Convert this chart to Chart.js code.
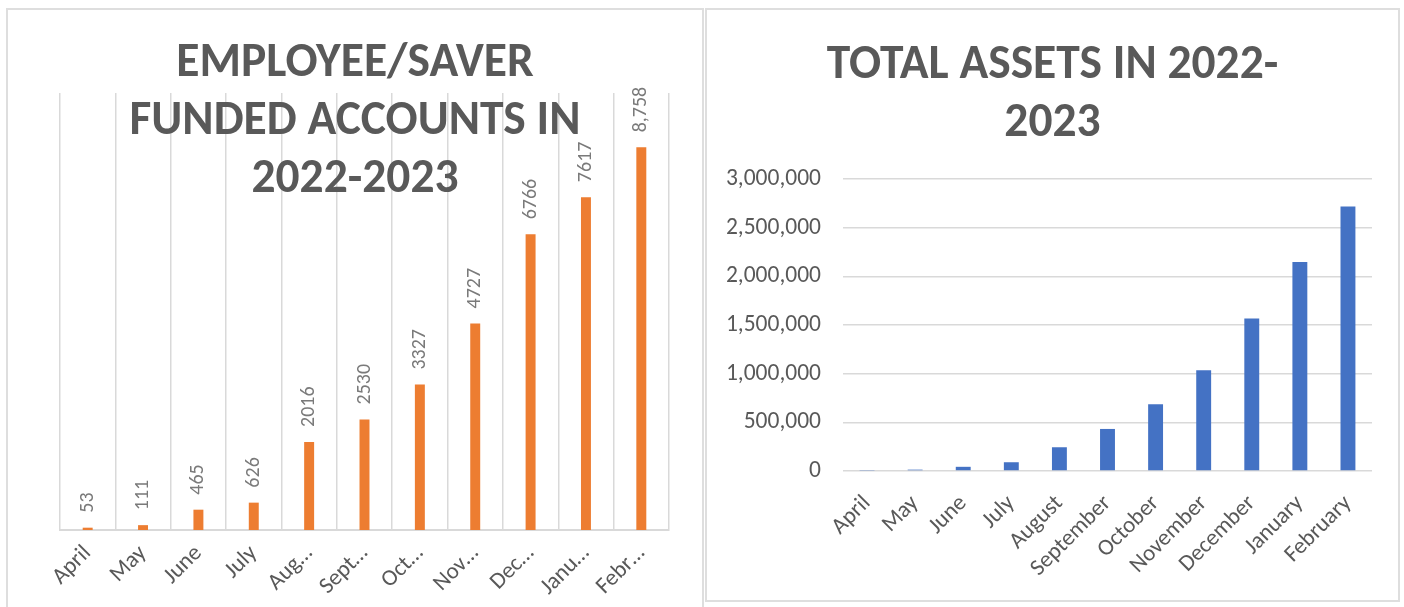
<!DOCTYPE html>
<html>
<head>
<meta charset="utf-8">
<script src="https://cdn.jsdelivr.net/npm/chart.js@4.4.1/dist/chart.umd.min.js"></script>
<style>
  body { margin:0; background:#fff; width:1404px; height:607px; overflow:hidden; position:relative; }
  .panel { position:absolute; border:2px solid #dedede; box-sizing:border-box; background:#fff; overflow:hidden; }
  #leftPanel { left:6px; top:8px; width:698px; height:610px; }
  #rightPanel { left:705px; top:8px; width:695px; height:594px; }
  canvas { position:absolute; left:0; top:0; }
</style>
</head>
<body>
<div class="panel" id="leftPanel"><canvas id="accountsChart" width="694" height="600"></canvas></div>
<div class="panel" id="rightPanel"><canvas id="assetsChart" width="691" height="590"></canvas></div>
<script>
// data
const accountMonths = ["April", "May", "June", "July", "Aug…", "Sept…", "Oct…", "Nov…", "Dec…", "Janu…", "Febr…"];
const fundedAccounts = [53, 111, 465, 626, 2016, 2530, 3327, 4727, 6766, 7617, 8758];
const accountLabels = ["53", "111", "465", "626", "2016", "2530", "3327", "4727", "6766", "7617", "8,758"];

const assetMonths = ["April", "May", "June", "July", "August", "September", "October", "November", "December", "January", "February"];
const totalAssets = [5000, 14000, 43000, 90000, 244000, 432000, 686000, 1036000, 1567000, 2148000, 2717000];
const assetTicks = [0, 500000, 1000000, 1500000, 2000000, 2500000, 3000000];

const FONT = "Carlito, Lato, sans-serif";
const GREY = "#595959";
const GRID = "#d9d9d9";

// big bold title drawn over the plot, like the Excel overlay
const overlayTitle = {
  id: "overlayTitle",
  afterDraw(chart, args, opts) {
    const ctx = chart.ctx;
    ctx.save();
    ctx.fillStyle = GREY;
    ctx.font = "bold " + opts.size + "px " + FONT;
    ctx.textAlign = "center";
    ctx.textBaseline = "alphabetic";
    opts.lines.forEach((line, i) => ctx.fillText(line, chart.width / 2, opts.top + i * opts.gap));
    ctx.restore();
  }
};

// vertical value labels above the orange bars
const barLabels = {
  id: "barLabels",
  afterDatasetsDraw(chart, args, opts) {
    if (!opts.labels) return;
    const ctx = chart.ctx;
    const meta = chart.getDatasetMeta(0);
    ctx.save();
    ctx.fillStyle = "#7a7a7a";
    ctx.font = "20px " + FONT;
    ctx.textAlign = "left";
    ctx.textBaseline = "middle";
    meta.data.forEach((bar, i) => {
      ctx.save();
      ctx.translate(bar.x, bar.y - 15);
      ctx.rotate(-Math.PI / 2);
      ctx.fillText(opts.labels[i], 0, 0);
      ctx.restore();
    });
    ctx.restore();
  }
};

new Chart(document.getElementById("accountsChart"), {
  type: "bar",
  data: {
    labels: accountMonths,
    datasets: [{ data: fundedAccounts, backgroundColor: "#ED7D31", barPercentage: 0.18, categoryPercentage: 1 }]
  },
  options: {
    responsive: false,
    animation: false,
    layout: { padding: { left: 52, right: 33, top: 83, bottom: 0 } },
    scales: {
      x: {
        grid: { display: true, color: GRID, lineWidth: 1.5, drawTicks: false, offset: true },
        border: { display: true, color: GRID, width: 2 },
        ticks: { color: GREY, font: { family: FONT, size: 23 }, minRotation: 45, maxRotation: 45, autoSkip: false, padding: 10 },
        afterFit(scale) { scale.height = 80; }
      },
      y: { display: false, min: 0, max: 10000 }
    },
    plugins: {
      legend: { display: false },
      tooltip: { enabled: false },
      barLabels: { labels: accountLabels },
      overlayTitle: { lines: ["EMPLOYEE/SAVER", "FUNDED ACCOUNTS IN", "2022-2023"], size: 47.5, top: 66, gap: 58 }
    }
  },
  plugins: [barLabels, overlayTitle]
});

new Chart(document.getElementById("assetsChart"), {
  type: "bar",
  data: {
    labels: assetMonths,
    datasets: [{ data: totalAssets, backgroundColor: "#4472C4", barPercentage: 0.31, categoryPercentage: 1 }]
  },
  options: {
    responsive: false,
    animation: false,
    layout: { padding: { left: 16, right: 26, top: 169, bottom: 0 } },
    scales: {
      x: {
        grid: { display: false },
        border: { display: false },
        ticks: { color: GREY, font: { family: FONT, size: 23 }, minRotation: 45, maxRotation: 45, autoSkip: false, padding: 11 },
        afterFit(scale) { scale.height = 129; }
      },
      y: {
        min: 0,
        max: 3000000,
        afterBuildTicks(scale) { scale.ticks = assetTicks.map(v => ({ value: v })); },
        grid: { color: GRID, lineWidth: 1.5, drawTicks: false },
        border: { display: false },
        ticks: { color: GREY, font: { family: FONT, size: 23.5 }, padding: 22, callback: v => v.toLocaleString("en-US") },
        afterFit(scale) { scale.width = 120; }
      }
    },
    plugins: {
      legend: { display: false },
      tooltip: { enabled: false },
      overlayTitle: { lines: ["TOTAL ASSETS IN 2022-", "2023"], size: 47.5, top: 68, gap: 58 }
    }
  },
  plugins: [overlayTitle]
});
</script>
</body>
</html>
